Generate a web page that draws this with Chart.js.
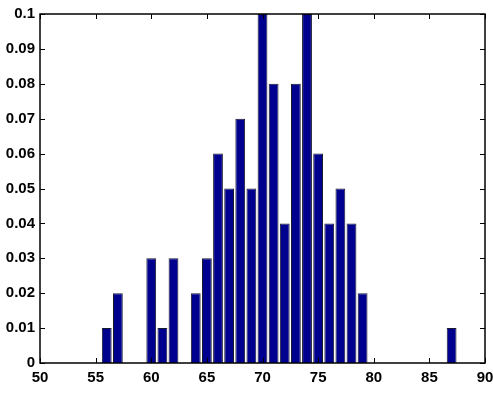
<!DOCTYPE html>
<html>
<head>
<meta charset="utf-8">
<script src="https://cdn.jsdelivr.net/npm/chart.js@4"></script>
<style>
  html, body { margin: 0; padding: 0; background: #fff; }
  #wrap { width: 493px; height: 400px; }
</style>
</head>
<body>
<div id="wrap"><canvas id="histChart" width="493" height="400"></canvas></div>
<script>
// histogram bins (x) and relative frequencies (y)
const binCenters = [56, 57, 60, 61, 62, 64, 65, 66, 67, 68, 69, 70, 71, 72, 73, 74, 75, 76, 77, 78, 79, 87];
const freqs = [0.01, 0.02, 0.03, 0.01, 0.03, 0.02, 0.03, 0.06, 0.05, 0.07, 0.05, 0.1, 0.08, 0.04, 0.08, 0.1, 0.06, 0.04, 0.05, 0.04, 0.02, 0.01];
const xTicks = [50, 55, 60, 65, 70, 75, 80, 85, 90];
const yTicks = [0, 0.01, 0.02, 0.03, 0.04, 0.05, 0.06, 0.07, 0.08, 0.09, 0.1];

const points = binCenters.map((x, i) => ({ x: x, y: freqs[i] }));

// matlab style box with inward ticks on all four sides
const boxTicks = {
  id: 'boxTicks',
  afterDraw(c) {
    const ctx = c.ctx;
    const a = c.chartArea;
    const xs = c.scales.x, ys = c.scales.y;
    const len = 5;
    ctx.save();
    ctx.strokeStyle = '#000';
    ctx.lineWidth = 1;
    ctx.beginPath();
    xTicks.forEach(v => {
      const px = Math.round(xs.getPixelForValue(v)) + 0.5;
      ctx.moveTo(px, a.bottom); ctx.lineTo(px, a.bottom - len);
      ctx.moveTo(px, a.top); ctx.lineTo(px, a.top + len);
    });
    yTicks.forEach(v => {
      const py = Math.round(ys.getPixelForValue(v)) + 0.5;
      ctx.moveTo(a.left, py); ctx.lineTo(a.left + len, py);
      ctx.moveTo(a.right, py); ctx.lineTo(a.right - len, py);
    });
    ctx.stroke();
    ctx.lineWidth = 1.5;
    ctx.strokeRect(a.left, a.top, a.right - a.left, a.bottom - a.top);
    ctx.restore();
  }
};

const ctx = document.getElementById('histChart').getContext('2d');
new Chart(ctx, {
  type: 'bar',
  data: {
    datasets: [{
      data: points,
      backgroundColor: '#00008F',
      borderColor: '#1a1a2e',
      borderWidth: 1,
      barPercentage: 0.88,
      categoryPercentage: 1.0
    }]
  },
  options: {
    responsive: false,
    animation: false,
    layout: { padding: { top: 12, right: 8, left: 0, bottom: 0 } },
    plugins: { legend: { display: false }, tooltip: { enabled: false } },
    scales: {
      x: {
        type: 'linear',
        min: 50, max: 90,
        offset: false,
        grid: { display: false, drawTicks: false },
        border: { display: false },
        afterBuildTicks: s => { s.ticks = xTicks.map(v => ({ value: v })); },
        afterFit: s => { s.height = 37; s.paddingLeft = 0; s.paddingRight = 0; },
        ticks: {
          padding: 6,
          maxRotation: 0,
          color: '#000',
          font: { family: 'Liberation Sans', size: 15, weight: 'bold' }
        }
      },
      y: {
        min: 0, max: 0.1,
        grid: { display: false, drawTicks: false },
        border: { display: false },
        afterBuildTicks: s => { s.ticks = yTicks.map(v => ({ value: v })); },
        afterFit: s => { s.width = 40; },
        ticks: {
          padding: 5,
          color: '#000',
          font: { family: 'Liberation Sans', size: 15, weight: 'bold' },
          callback: v => String(Math.round(v * 100) / 100)
        }
      }
    }
  },
  plugins: [boxTicks]
});
</script>
</body>
</html>
